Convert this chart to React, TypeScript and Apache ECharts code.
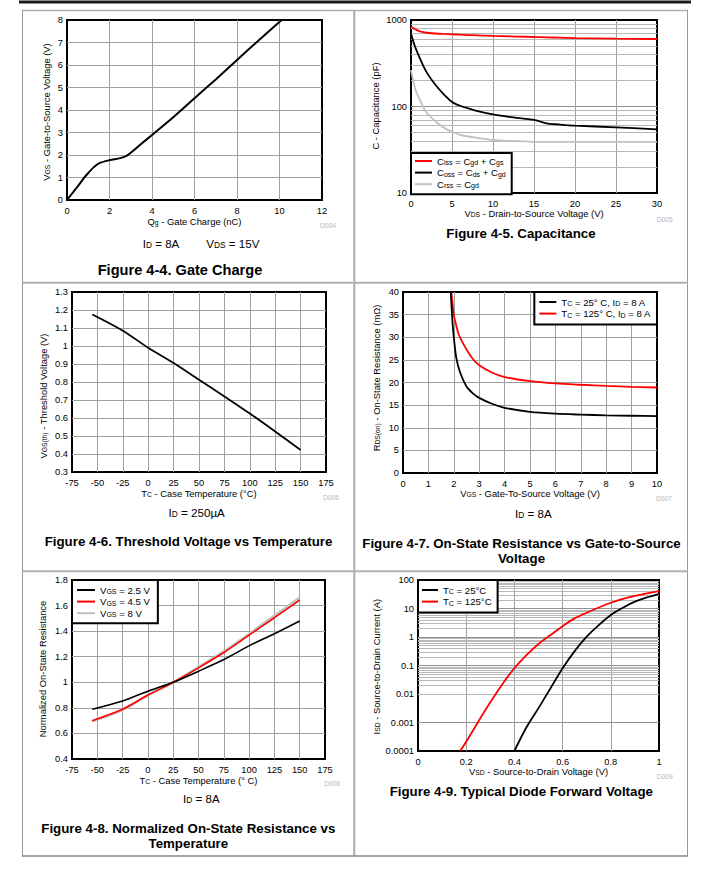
import React, { useEffect, useRef } from 'react';
import * as echarts from 'echarts';

const FONT = '"Liberation Sans", Arial, Helvetica, sans-serif';

// ---------- Figure 4-4 Gate charge ----------
const gateChargeQ = [0, 0.25, 0.5, 0.8, 1, 1.25, 1.5, 2, 2.5, 2.8, 3, 3.5, 4, 5, 6, 7, 8, 9, 10.1];
const gateChargeVgs = [0, 0.3, 0.6, 0.98, 1.2, 1.45, 1.63, 1.77, 1.86, 1.96, 2.1, 2.5, 2.89, 3.68, 4.52, 5.36, 6.22, 7.08, 8];

// ---------- Figure 4-5 Capacitance ----------
const capVds = [0, 0.5, 1, 1.5, 2, 3, 4, 5, 6, 7, 8, 10, 12, 14, 15, 16.5, 18, 20, 25, 30];
const capCiss = [840, 780, 745, 725, 712, 698, 690, 683, 676, 670, 665, 655, 647, 640, 636, 631, 625, 618, 608, 603];
const capCoss = [700, 490, 377, 295, 240, 177, 138, 113, 102, 95, 89, 81, 76, 72, 70, 64, 62, 60, 57.5, 54.5];
const capCrss = [263, 162, 124, 98, 83, 67, 57, 51, 47, 45, 43.5, 41, 40, 39.5, 39, 39, 39, 39, 39, 39];
const capYTicks = ['10', '100', '1000'];
const capMinor = [20, 30, 40, 50, 60, 70, 80, 90, 200, 300, 400, 500, 600, 700, 800, 900];

// ---------- Figure 4-6 Threshold voltage ----------
const thTemp = [-55, -25, 0, 25, 50, 75, 100, 125, 150];
const thVgs = [1.175, 1.085, 0.99, 0.905, 0.812, 0.72, 0.625, 0.525, 0.422];

// ---------- Figure 4-7 Rds(on) vs Vgs ----------
const rVgs25 = [1.88, 1.92, 1.96, 2.0, 2.1, 2.25, 2.5, 2.75, 3, 3.5, 4, 5, 6, 7, 8, 9, 10];
const rOn25 = [40, 36, 32.5, 30, 25.4, 22.2, 19.1, 17.6, 16.6, 15.3, 14.4, 13.5, 13.1, 12.9, 12.75, 12.65, 12.55];
const rVgs125 = [1.9, 1.95, 2.0, 2.1, 2.2, 2.35, 2.5, 2.75, 3, 3.5, 4, 5, 6, 7, 8, 9, 10];
const rOn125 = [40, 37.5, 35, 32.5, 30.5, 28.8, 27.3, 25.2, 23.8, 22.2, 21.2, 20.3, 19.8, 19.5, 19.25, 19.05, 18.9];

// ---------- Figure 4-8 Normalized Rds(on) ----------
const nTemp = [-55, -25, 0, 25, 50, 75, 100, 125, 150];
const nVgs25 = [0.789, 0.854, 0.93, 1.0, 1.087, 1.178, 1.285, 1.38, 1.48];
const nVgs45 = [0.7, 0.789, 0.9, 1.0, 1.113, 1.233, 1.369, 1.505, 1.643];
const nVgs8 = [0.695, 0.785, 0.898, 1.0, 1.118, 1.24, 1.378, 1.52, 1.662];

// ---------- Figure 4-9 Diode forward voltage ----------
const dV25 = [0.4, 0.45, 0.5, 0.55, 0.6, 0.65, 0.7, 0.75, 0.8, 0.85, 0.9, 0.95, 1];
const dI25 = [0.0001, 0.00068, 0.0032, 0.016, 0.08, 0.32, 1.03, 2.6, 5.9, 10.7, 17.4, 24.6, 32];
const dV125 = [0.175, 0.2, 0.25, 0.3, 0.35, 0.4, 0.45, 0.5, 0.55, 0.6, 0.65, 0.7, 0.8, 0.9, 1];
const dI125 = [0.0001, 0.00021, 0.00107, 0.0051, 0.022, 0.08, 0.23, 0.57, 1.17, 2.4, 4.5, 7.1, 15.9, 27.5, 41];
const diodeYTicks = ['0.0001', '0.001', '0.01', '0.1', '1', '10', '100'];
const diodeMinor: number[] = [];
[0.0001, 0.001, 0.01, 0.1, 1, 10].forEach((d) => {
  [2, 3, 4, 5, 6, 7, 8, 9].forEach((k) => diodeMinor.push(parseFloat((k * d).toPrecision(3))));
});

const legendLabels: Record<string, string> = {
  'Ciss = Cgd + Cgs': 'C{s|iss} = C{s|gd} + C{s|gs}',
  'Coss = Cds + Cgd': 'C{s|oss} = C{s|ds} + C{s|gd}',
  'Crss = Cgd': 'C{s|rss} = C{s|gd}',
  'TC = 25° C, ID = 8 A': 'T{s|C} = 25° C, I{s|D} = 8 A',
  'TC = 125° C, ID = 8 A': 'T{s|C} = 125° C, I{s|D} = 8 A',
  'VGS = 2.5 V': 'V{s|GS} = 2.5 V',
  'VGS = 4.5 V': 'V{s|GS} = 4.5 V',
  'VGS = 8 V': 'V{s|GS} = 8 V',
  'TC = 25°C': 'T{s|C} = 25°C',
  'TC = 125°C': 'T{s|C} = 125°C',
};

const RED = '#ff0000';
const GRAY = '#c0c0c0';
const GRID_C = '#a0a0a0';

function pairs(xs: number[], ys: number[]) {
  return xs.map((x, i) => [x, ys[i]]);
}

function gText(x: number, y: number, text: string, size: number, opts: any = {}) {
  const color = opts.color || '#000';
  return {
    type: 'text',
    x,
    y,
    rotation: opts.rotate ? Math.PI / 2 : 0,
    silent: true,
    z: 10,
    style: {
      text,
      fill: color,
      fontSize: size,
      fontFamily: FONT,
      fontWeight: opts.bold ? 'bold' : 'normal',
      align: 'center',
      verticalAlign: 'middle',
      rich: {
        s: {
          fontSize: size * 0.72,
          fontFamily: FONT,
          fill: color,
          verticalAlign: 'bottom',
          lineHeight: size * 0.72,
        },
      },
    },
  };
}

function gLine(x1: number, y1: number, x2: number, y2: number, color: string, w: number) {
  return {
    type: 'line',
    silent: true,
    shape: { x1, y1, x2, y2 },
    style: { stroke: color, lineWidth: w },
  };
}

const axisLabel = (margin: number, extra: any = {}) => ({
  fontSize: 9.3,
  fontFamily: FONT,
  color: '#000',
  margin,
  showMinLabel: true,
  showMaxLabel: true,
  ...extra,
});

function xAxisV(gridIndex: number, min: number, max: number, interval: number) {
  return {
    type: 'value',
    gridIndex,
    min,
    max,
    interval,
    axisLine: { show: false },
    axisTick: { show: false },
    axisLabel: axisLabel(6),
    splitLine: { show: true, showMinLine: false, showMaxLine: false, lineStyle: { color: GRID_C, width: 1 } },
  };
}

function yAxisV(gridIndex: number, min: number, max: number, interval: number) {
  return {
    type: 'value',
    gridIndex,
    min,
    max,
    interval,
    axisLine: { show: false },
    axisTick: { show: false },
    axisLabel: axisLabel(4),
    splitLine: { show: true, showMinLine: false, showMaxLine: false, lineStyle: { color: GRID_C, width: 1 } },
  };
}

function yAxisLog(gridIndex: number, min: number, max: number, splitNumber: number, labels: string[]) {
  return {
    type: 'log',
    logBase: 10,
    gridIndex,
    min,
    max,
    splitNumber,
    axisLine: { show: false },
    axisTick: { show: false },
    axisLabel: axisLabel(4, { formatter: (v: number, i: number) => labels[i] ?? String(v) }),
    splitLine: { show: true, showMinLine: false, showMaxLine: false, lineStyle: { color: '#909090', width: 1 } },
  };
}

function lineSeries(name: string, xi: number, data: number[][], color: string, width: number) {
  return {
    type: 'line',
    name,
    xAxisIndex: xi,
    yAxisIndex: xi,
    data,
    showSymbol: false,
    symbol: 'none',
    smooth: 0.3,
    clip: true,
    color,
    itemStyle: { color },
    lineStyle: { color, width },
    z: 3,
  };
}

function minorGrid(xi: number, values: number[]) {
  return {
    type: 'line',
    xAxisIndex: xi,
    yAxisIndex: xi,
    data: [],
    silent: true,
    z: 1,
    markLine: {
      silent: true,
      z: 1,
      symbol: ['none', 'none'],
      label: { show: false },
      lineStyle: { color: '#b8b8b8', width: 1, type: 'solid' },
      emphasis: { disabled: true },
      data: values.map((v) => ({ yAxis: v })),
    },
  };
}

function legendBox(opts: any, names: string[]) {
  return {
    orient: 'vertical',
    selectedMode: false,
    data: names,
    icon: 'rect',
    itemWidth: 17,
    itemHeight: 2,
    itemGap: 1.6,
    backgroundColor: '#fff',
    borderColor: '#000',
    borderWidth: 2,
    borderRadius: 0,
    z: 6,
    formatter: (name: string) => legendLabels[name] || name,
    textStyle: {
      fontSize: 9.6,
      fontFamily: FONT,
      color: '#000',
      lineHeight: 10,
      rich: {
        s: { fontSize: 7, fontFamily: FONT, color: '#000', verticalAlign: 'bottom', lineHeight: 7 },
      },
    },
    ...opts,
  };
}

function buildOption(): any {
  const grids = [
    { left: 67, top: 20, width: 255, height: 180 },
    { left: 411, top: 20, width: 246, height: 173 },
    { left: 72, top: 292, width: 254, height: 180 },
    { left: 403, top: 292, width: 254, height: 181 },
    { left: 72, top: 580, width: 253, height: 179 },
    { left: 418, top: 580, width: 241, height: 171 },
  ].map((g) => ({ ...g, show: true, borderColor: '#000', borderWidth: 2, backgroundColor: 'transparent', containLabel: false }));

  const xAxis = [
    xAxisV(0, 0, 12, 2),
    xAxisV(1, 0, 30, 5),
    xAxisV(2, -75, 175, 25),
    xAxisV(3, 0, 10, 1),
    xAxisV(4, -75, 175, 25),
    xAxisV(5, 0, 1, 0.2),
  ];
  const yAxis = [
    yAxisV(0, 0, 8, 1),
    yAxisLog(1, 10, 1000, 2, capYTicks),
    yAxisV(2, 0.3, 1.3, 0.1),
    yAxisV(3, 0, 40, 5),
    yAxisV(4, 0.4, 1.8, 0.2),
    yAxisLog(5, 0.0001, 100, 6, diodeYTicks),
  ];

  const series = [
    lineSeries('Gate charge', 0, pairs(gateChargeQ, gateChargeVgs), '#000', 2),
    minorGrid(1, capMinor),
    lineSeries('Crss = Cgd', 1, pairs(capVds, capCrss), GRAY, 1.8),
    lineSeries('Coss = Cds + Cgd', 1, pairs(capVds, capCoss), '#000', 1.8),
    lineSeries('Ciss = Cgd + Cgs', 1, pairs(capVds, capCiss), RED, 1.8),
    lineSeries('Threshold', 2, pairs(thTemp, thVgs), '#000', 1.8),
    lineSeries('TC = 125° C, ID = 8 A', 3, pairs(rVgs125, rOn125), RED, 1.8),
    lineSeries('TC = 25° C, ID = 8 A', 3, pairs(rVgs25, rOn25), '#000', 1.8),
    lineSeries('VGS = 8 V', 4, pairs(nTemp, nVgs8), GRAY, 2.6),
    lineSeries('VGS = 4.5 V', 4, pairs(nTemp, nVgs45), RED, 1.6),
    lineSeries('VGS = 2.5 V', 4, pairs(nTemp, nVgs25), '#000', 1.6),
    minorGrid(5, diodeMinor),
    lineSeries('TC = 25°C', 5, pairs(dV25, dI25), '#000', 1.8),
    lineSeries('TC = 125°C', 5, pairs(dV125, dI125), RED, 1.8),
  ];

  const legend = [
    legendBox({ left: 411, top: 153, padding: [3, 6, 5, 4] }, ['Ciss = Cgd + Cgs', 'Coss = Cds + Cgd', 'Crss = Cgd']),
    legendBox({ right: 50, top: 292, padding: [5, 6, 6, 5], itemWidth: 17 }, ['TC = 25° C, ID = 8 A', 'TC = 125° C, ID = 8 A']),
    legendBox({ left: 72, top: 580, padding: [5, 8, 5, 5], itemWidth: 18 }, ['VGS = 2.5 V', 'VGS = 4.5 V', 'VGS = 8 V']),
    legendBox({ left: 418, top: 580, padding: [5, 6, 6, 4], itemWidth: 16 }, ['TC = 25°C', 'TC = 125°C']),
  ];

  const AX = 9.4;
  const COND = 11.6;
  const TITLE = 13.3;
  const DC = { color: '#b8b8b8' };
  const graphic = [
    // table frame
    gLine(19, 2, 691, 2, '#1a1a1a', 3),
    gLine(22, 10.5, 688, 10.5, '#b0b0b0', 1.5),
    gLine(22.5, 10, 22.5, 856.5, '#999', 1),
    gLine(687.5, 10, 687.5, 856.5, '#999', 1),
    gLine(354.3, 10, 354.3, 856.5, '#aaa', 2),
    gLine(22, 282.7, 688, 282.7, '#b0b0b0', 2),
    gLine(22, 571.3, 688, 571.3, '#b0b0b0', 2),
    gLine(22, 856, 688, 856, '#888', 1.5),

    // Figure 4-4
    gText(46.7, 112, 'V{s|GS} - Gate-to-Source Voltage (V)', AX, { rotate: true }),
    gText(194.5, 221.7, 'Q{s|g} - Gate Charge (nC)', AX),
    gText(328, 225.7, 'D004', 6.7, DC),
    gText(161, 243, 'I{s|D} = 8A', COND),
    gText(232.8, 243, 'V{s|DS} = 15V', COND),
    gText(180, 270, 'Figure 4-4. Gate Charge', 14.6, { bold: true }),

    // Figure 4-5
    gText(375, 106, 'C - Capacitance (pF)', AX, { rotate: true }),
    gText(534, 213.3, 'V{s|DS} - Drain-to-Source Voltage (V)', AX),
    gText(664.7, 219.3, 'D005', 6.7, DC),
    gText(521, 233.3, 'Figure 4-5. Capacitance', TITLE, { bold: true }),

    // Figure 4-6
    gText(43.3, 396, 'V{s|GS(th)} - Threshold Voltage (V)', AX, { rotate: true }),
    gText(199, 493.3, 'T{s|C} - Case Temperature (°C)', AX),
    gText(331, 497.3, 'D006', 6.7, DC),
    gText(196.7, 512.3, 'I{s|D} = 250µA', COND),
    gText(188.5, 541.7, 'Figure 4-6. Threshold Voltage vs Temperature', TITLE, { bold: true }),

    // Figure 4-7
    gText(376, 378, 'R{s|DS(on)} - On-State Resistance (mΩ)', AX, { rotate: true }),
    gText(530, 493.3, 'V{s|GS} - Gate-To-Source Voltage (V)', AX),
    gText(664, 498.3, 'D007', 6.7, DC),
    gText(533.3, 513.3, 'I{s|D} = 8A', COND),
    gText(521.5, 543.3, 'Figure 4-7. On-State Resistance vs Gate-to-Source', TITLE, { bold: true }),
    gText(521.5, 558.3, 'Voltage', TITLE, { bold: true }),

    // Figure 4-8
    gText(42.7, 669, 'Normalized On-State Resistance', AX, { rotate: true }),
    gText(198.5, 780, 'T{s|C} - Case Temperature (° C)', AX),
    gText(332, 783.7, 'D008', 6.7, DC),
    gText(201.3, 798.3, 'I{s|D} = 8A', COND),
    gText(188.3, 828.3, 'Figure 4-8. Normalized On-State Resistance vs', TITLE, { bold: true }),
    gText(188.3, 843.3, 'Temperature', TITLE, { bold: true }),

    // Figure 4-9
    gText(376.7, 666.7, 'I{s|SD} - Source-to-Drain Current (A)', AX, { rotate: true }),
    gText(538.5, 771.7, 'V{s|SD} - Source-to-Drain Voltage (V)', AX),
    gText(664.7, 776, 'D009', 6.7, DC),
    gText(521.3, 791, 'Figure 4-9. Typical Diode Forward Voltage', TITLE, { bold: true }),
  ];

  return {
    animation: false,
    backgroundColor: '#fff',
    textStyle: { fontFamily: FONT },
    grid: grids,
    xAxis,
    yAxis,
    series,
    legend,
    graphic: { elements: graphic },
  };
}

export default function App() {
  const ref = useRef<HTMLDivElement>(null);
  useEffect(() => {
    if (!ref.current) return;
    const chart = echarts.init(ref.current, null, { renderer: 'svg' });
    chart.setOption(buildOption());
    return () => chart.dispose();
  }, []);
  return (
    <div
      ref={ref}
      style={{ position: 'absolute', left: 0, top: 0, width: 707, height: 877, background: '#fff' }}
    />
  );
}
